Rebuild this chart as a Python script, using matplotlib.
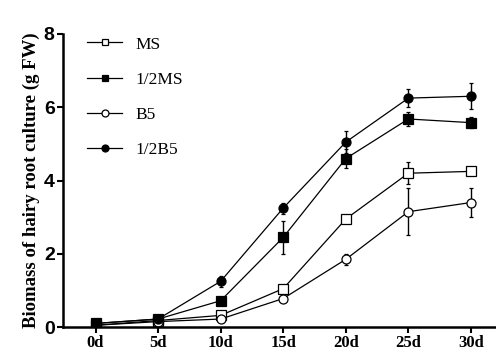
import matplotlib
matplotlib.use("Agg")
import matplotlib.pyplot as plt

days = [0, 5, 10, 15, 20, 25, 30]
day_labels = ["0d", "5d", "10d", "15d", "20d", "25d", "30d"]

ms = [0.05, 0.18, 0.32, 1.05, 2.95, 4.2, 4.25]
ms_err = [0.03, 0.03, 0.08, 0.1, 0.1, 0.3, 0.1]
half_ms = [0.1, 0.22, 0.72, 2.45, 4.6, 5.68, 5.58]
half_ms_err = [0.03, 0.03, 0.08, 0.45, 0.25, 0.2, 0.15]
b5 = [0.05, 0.15, 0.22, 0.78, 1.85, 3.15, 3.4]
b5_err = [0.03, 0.03, 0.05, 0.1, 0.15, 0.65, 0.4]
half_b5 = [0.1, 0.22, 1.25, 3.25, 5.05, 6.25, 6.3]
half_b5_err = [0.03, 0.03, 0.15, 0.15, 0.3, 0.25, 0.35]

fig = plt.figure(figsize=(4.96, 3.54), dpi=100)
ax = fig.add_axes([0.127, 0.076, 0.873, 0.828])

series = [
    ("MS", ms, ms_err, "s", "white"),
    ("1/2MS", half_ms, half_ms_err, "s", "black"),
    ("B5", b5, b5_err, "o", "white"),
    ("1/2B5", half_b5, half_b5_err, "o", "black"),
]
handles = []
for name, vals, err, mk, fc in series:
    ax.errorbar(days, vals, yerr=err, color="black", lw=0.9,
                marker=mk, markersize=6.5, markerfacecolor=fc, markeredgecolor="black",
                markeredgewidth=0.9, elinewidth=1.0, capsize=1.5)
    # legend handle without error bars
    h, = ax.plot([], [], color="black", lw=0.9, marker=mk, markersize=5,
                 markerfacecolor=fc, markeredgecolor="black", markeredgewidth=0.9,
                 label=name)
    handles.append(h)

ax.set_xlim(-2.6, 32)
ax.set_ylim(0, 8)
ax.set_yticks([0, 2, 4, 6, 8])
ax.set_xticks(days)
ax.set_xticklabels(day_labels, family="Liberation Serif", weight="bold", fontsize=12)
for t in ax.get_yticklabels():
    t.set_family("Liberation Sans")
    t.set_weight("bold")
    t.set_fontsize(14)
ax.set_ylabel("Biomass of hairy root culture (g FW)", family="Liberation Serif",
              weight="bold", fontsize=13.5, labelpad=3)
ax.spines["top"].set_visible(False)
ax.spines["right"].set_visible(False)
ax.spines["left"].set_linewidth(1.8)
ax.spines["bottom"].set_linewidth(1.8)
ax.tick_params(width=1.5, length=4, pad=2)

leg = ax.legend(handles=handles, loc="upper left", bbox_to_anchor=(0.02, 1.045),
                frameon=False, prop={"family": "Liberation Serif", "size": 12.5},
                handlelength=2.0, labelspacing=1.1, handletextpad=0.8)

plt.savefig("out.png", dpi=100)
